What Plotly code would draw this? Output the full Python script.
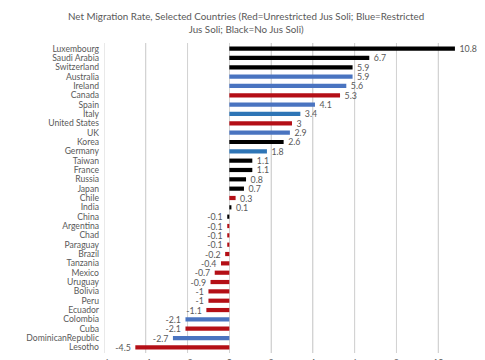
import plotly.graph_objects as go

countries = ["Luxembourg", "Saudi Arabia", "Switzerland", "Australia", "Ireland", "Canada",
             "Spain", "Italy", "United States", "UK", "Korea", "Germany", "Taiwan", "France",
             "Russia", "Japan", "Chile", "India", "China", "Argentina", "Chad", "Paraguay",
             "Brazil", "Tanzania", "Mexico", "Uruguay", "Bolivia", "Peru", "Ecuador",
             "Colombia", "Cuba", "DominicanRepublic", "Lesotho"]
rates = [10.8, 6.7, 5.9, 5.9, 5.6, 5.3, 4.1, 3.4, 3, 2.9, 2.6, 1.8, 1.1, 1.1, 0.8, 0.7,
         0.3, 0.1, -0.1, -0.1, -0.1, -0.1, -0.2, -0.4, -0.7, -0.9, -1, -1, -1.1,
         -2.1, -2.1, -2.7, -4.5]
groups = ["none", "none", "none", "restricted", "restricted", "unrestricted",
          "restricted", "restricted2", "unrestricted", "restricted", "none", "restricted2",
          "none", "none", "none", "none", "unrestricted", "none", "none", "unrestricted",
          "unrestricted", "unrestricted", "unrestricted", "unrestricted", "unrestricted",
          "unrestricted", "unrestricted", "unrestricted", "unrestricted",
          "restricted", "unrestricted", "restricted", "unrestricted"]
x_ticks = [-6, -4, -2, 0, 2, 4, 6, 8, 10, 12]

color_map = {"none": "#000000", "restricted": "#4A74C0", "restricted2": "#2E75B6",
             "unrestricted": "#B40F16"}
colors = [color_map[g] for g in groups]
pad = "\u00a0\u00a0"
labels = [(pad + f"{v:g}") if v >= 0 else (f"{v:g}" + pad) for v in rates]

fig = go.Figure(go.Bar(
    x=rates, y=countries, orientation="h",
    marker=dict(color=colors, line=dict(width=0)),
    text=labels, textposition="outside", cliponaxis=False, constraintext="none",
    textfont=dict(family="Lato", size=8.8, color="#595959"),
    width=0.45,
))

grid_shapes = [dict(type="line", xref="x", yref="paper", x0=t, x1=t, y0=0, y1=1,
                    layer="below", line=dict(color="#D3D3D3", width=1))
               for t in x_ticks if t != 0]

fig.update_layout(
    template="none",
    width=477, height=352,
    margin=dict(l=96, r=5, t=35, b=7),
    paper_bgcolor="white", plot_bgcolor="white",
    showlegend=False,
    font=dict(family="Lato", color="#595959"),
    shapes=grid_shapes,
    annotations=[dict(
        text="Net Migration Rate, Selected Countries (Red=Unrestricted Jus Soli; Blue=Restricted<br>Jus Soli; Black=No Jus Soli)",
        xref="paper", yref="paper", x=0.378, y=1.066, xanchor="center", yanchor="middle",
        showarrow=False, align="center",
        font=dict(family="Lato", size=9.8, color="#595959"),
    )],
)
fig.update_xaxes(range=[-6, 12], tickmode="array", tickvals=x_ticks, showgrid=True,
                 gridcolor="#D3D3D3", gridwidth=1, zeroline=False, showline=False,
                 ticks="", ticklabelstandoff=3,
                 tickfont=dict(size=9, color="#595959"), automargin=False)
fig.update_yaxes(range=[32.6, -0.6], dtick=1, showgrid=False, zeroline=False, showline=False,
                 ticks="", tickfont=dict(size=8.6, color="#595959"), ticklabelstandoff=4,
                 automargin=False)

fig.write_html("out.html")
